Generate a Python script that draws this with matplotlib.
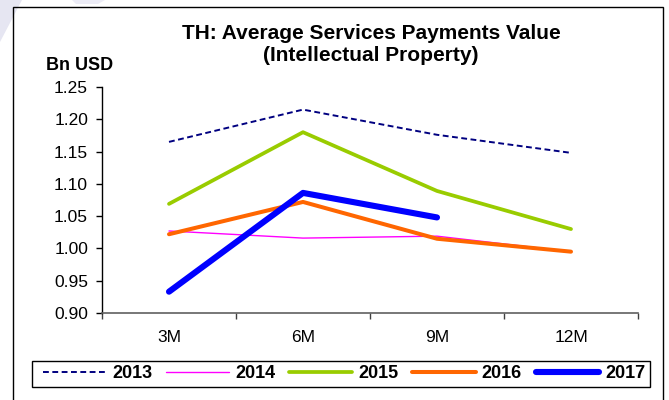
import matplotlib
matplotlib.use("Agg")
import matplotlib.pyplot as plt
from matplotlib.patches import Rectangle, Polygon
from matplotlib.ticker import FixedLocator, NullFormatter, FuncFormatter

plt.rcParams['font.family'] = ['Liberation Sans', 'DejaVu Sans']

categories = ["3M", "6M", "9M", "12M"]
years = ["2013", "2014", "2015", "2016", "2017"]
values = {
    "2013": [1.165, 1.215, 1.176, 1.148],
    "2014": [1.027, 1.016, 1.019, 0.995],
    "2015": [1.069, 1.180, 1.089, 1.030],
    "2016": [1.022, 1.072, 1.015, 0.995],
    "2017": [0.933, 1.086, 1.048],
}
styles = {
    "2013": dict(color="#000080", lw=1.4, ls=(0, (3.0, 1.8))),
    "2014": dict(color="#FF00FF", lw=1.0, ls="-"),
    "2015": dict(color="#99CC00", lw=2.7, ls="-"),
    "2016": dict(color="#FF6600", lw=2.9, ls="-"),
    "2017": dict(color="#0000FF", lw=4.4, ls="-"),
}

W, H = 669, 400
fig = plt.figure(figsize=(W / 100, H / 100), dpi=100)


def fx(px):
    return px / W


def fy(py):
    return 1 - py / H


# faint background watermark shapes
fig.add_artist(Polygon([(fx(0), fy(0)), (fx(22), fy(0)), (fx(0), fy(42))],
                       transform=fig.transFigure, closed=True,
                       facecolor="#E6E6F2", edgecolor="none", zorder=0))
fig.add_artist(Polygon([(fx(72), fy(0)), (fx(105), fy(0)), (fx(98), fy(4)), (fx(76), fy(4))],
                       transform=fig.transFigure, closed=True,
                       facecolor="#ECECF6", edgecolor="none", zorder=0))

# outer frame of the chart
fig.add_artist(Rectangle((fx(13), fy(405)), fx(650), 398 / H, transform=fig.transFigure,
                         fill=False, edgecolor="black", lw=1.0))

ax = fig.add_axes([fx(102), fy(313), fx(536), 226 / H])
for y in years:
    v = values[y]
    ax.plot(range(len(v)), v, label=y, solid_capstyle="round",
            dash_capstyle="butt", **styles[y])

ax.set_xlim(-0.5, len(categories) - 0.5)
ax.set_ylim(0.90, 1.25)
ax.set_yticks([0.90 + 0.05 * i for i in range(8)])
ax.yaxis.set_major_formatter(FuncFormatter(lambda v, p: f"{v:.2f}"))
ax.xaxis.set_major_locator(FixedLocator([i - 0.5 for i in range(len(categories) + 1)]))
ax.xaxis.set_major_formatter(NullFormatter())
ax.xaxis.set_minor_locator(FixedLocator(range(len(categories))))
ax.set_xticklabels(categories, minor=True)
ax.tick_params(axis="x", which="minor", length=0, pad=12, labelsize=12.5)
ax.tick_params(axis="x", which="major", length=4, width=1, color="#404040", direction="out")
ax.tick_params(axis="y", length=4, width=1, direction="out", labelsize=12.5, pad=6)
for s in ("top", "right"):
    ax.spines[s].set_visible(False)
ax.spines["bottom"].set_color("#606060")
ax.spines["bottom"].set_linewidth(1.2)
ax.spines["left"].set_linewidth(1.0)

fig.text(fx(371), fy(44.5), "TH: Average Services Payments Value\n(Intellectual Property)",
         ha="center", va="center", fontsize=15, fontweight="bold", linespacing=1.15)
fig.text(fx(46), fy(65), "Bn USD", ha="left", va="center", fontsize=13,
         fontweight="bold")

# legend box drawn separately so its padding can be set exactly
fig.add_artist(Rectangle((fx(32), fy(387)), fx(618), 26 / H, transform=fig.transFigure,
                         fill=False, edgecolor="black", lw=1.0, zorder=5))
leg = fig.legend(loc="center", bbox_to_anchor=(fx(344), fy(374)), ncol=5,
                 frameon=False, handlelength=3.5, handletextpad=0.35,
                 columnspacing=0.75, borderpad=0.2,
                 prop=dict(weight="bold", size=13))

fig.savefig("out.png", dpi=100)
